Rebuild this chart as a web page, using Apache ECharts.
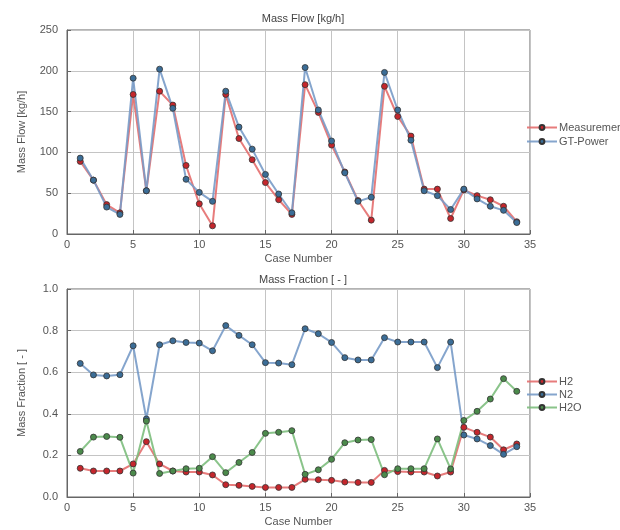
<!DOCTYPE html>
<html><head><meta charset="utf-8">
<script src="https://cdn.jsdelivr.net/npm/echarts@6/dist/echarts.min.js"></script>
<style>html,body{margin:0;padding:0;background:#fff}#c{width:620px;height:530px}</style>
</head><body><div id="c"></div>
<script>
var cases = [1,2,3,4,5,6,7,8,9,10,11,12,13,14,15,16,17,18,19,20,21,22,23,24,25,26,27,28,29,30,31,32,33,34];
var measurement = [89,66,36,26,171,53,175,158,84,37,10,171,117,91,63,42,24,183,149,109,76,41,17,181,144,120,55,55,19,54,47,42,34,15];
var gtPower =     [93,66,33,24,191,53,202,154,67,51,40,175,131,104,73,49,26,204,152,114,75,40,45,198,152,115,53,47,30,55,43,34,29,14];
var h2 =  [0.138,0.125,0.125,0.125,0.159,0.266,0.159,0.125,0.120,0.120,0.106,0.059,0.056,0.051,0.046,0.046,0.046,0.085,0.083,0.080,0.072,0.070,0.070,0.128,0.122,0.120,0.120,0.101,0.120,0.335,0.311,0.288,0.227,0.255];
var n2 =  [0.642,0.587,0.582,0.588,0.727,0.375,0.732,0.751,0.743,0.740,0.703,0.824,0.777,0.732,0.646,0.644,0.636,0.809,0.785,0.743,0.670,0.659,0.659,0.766,0.745,0.745,0.745,0.622,0.745,0.298,0.279,0.247,0.205,0.242];
var h2o = [0.219,0.288,0.291,0.287,0.115,0.365,0.113,0.125,0.136,0.138,0.194,0.117,0.166,0.214,0.306,0.311,0.319,0.109,0.131,0.181,0.261,0.274,0.276,0.107,0.136,0.136,0.136,0.279,0.135,0.368,0.412,0.471,0.569,0.508];

function pairs(v){ return cases.map(function(c,i){ return [c, v[i]]; }); }

var txt = '#555';
var font = 'Liberation Sans, Arial, sans-serif';
function xAx(gi){
  return {gridIndex:gi,type:'value',min:0,max:35,interval:5,name:'Case Number',nameLocation:'middle',nameGap:19,
    nameTextStyle:{color:txt,fontSize:11,fontFamily:font},
    axisLine:{lineStyle:{color:'#666'}},axisTick:{inside:true,length:4,lineStyle:{color:'#666'}},
    axisLabel:{color:txt,fontSize:11,fontFamily:font,margin:5},
    splitLine:{show:true,lineStyle:{color:'#c4c4c4'}}};
}
function yAx(gi,max,interval,name,fmt){
  return {gridIndex:gi,type:'value',min:0,max:max,interval:interval,name:name,nameLocation:'middle',nameGap:40,
    nameTextStyle:{color:txt,fontSize:11,fontFamily:font},
    axisLine:{show:true,lineStyle:{color:'#666'}},axisTick:{show:true,inside:true,length:4,lineStyle:{color:'#666'}},
    axisLabel:{color:txt,fontSize:11,fontFamily:font,margin:9,formatter:fmt},
    splitLine:{show:true,lineStyle:{color:'#c4c4c4'}}};
}
function ser(name,data,xi,lineCol,mk){
  return {name:name,type:'line',xAxisIndex:xi,yAxisIndex:xi,data:pairs(data),symbol:'circle',symbolSize:6,
    lineStyle:{color:lineCol,width:2},itemStyle:{color:mk,borderColor:'#333',borderWidth:0.8},
    emphasis:{disabled:true},z:2};
}
var chart = echarts.init(document.getElementById('c'));
chart.setOption({
  animation:false,
  backgroundColor:'#fff',
  title:[
    {text:'Mass Flow [kg/h]',left:298,top:8,textAlign:'center',textStyle:{fontSize:11,fontWeight:'normal',color:'#444',fontFamily:font}},
    {text:'Mass Fraction [ - ]',left:298,top:269,textAlign:'center',textStyle:{fontSize:11,fontWeight:'normal',color:'#444',fontFamily:font}}
  ],
  legend:[
    {orient:'vertical',left:521,top:117,itemWidth:30,itemHeight:6,itemGap:3,
      textStyle:{color:txt,fontSize:11,fontFamily:font,padding:[0,0,0,-3]},
      data:['Measurement','GT-Power']},
    {orient:'vertical',left:521,top:371,itemWidth:30,itemHeight:6,itemGap:2,
      textStyle:{color:txt,fontSize:11,fontFamily:font,padding:[0,0,0,-3]},
      data:['H2','N2','H2O']}
  ],
  grid:[
    {left:67,right:90,top:30,height:204,show:true,borderColor:'#666',borderWidth:1,backgroundColor:'#fff'},
    {left:67,right:90,top:289,height:208,show:true,borderColor:'#666',borderWidth:1,backgroundColor:'#fff'}
  ],
  xAxis:[xAx(0),xAx(1)],
  yAxis:[yAx(0,250,50,'Mass Flow [kg/h]'),yAx(1,1,0.2,'Mass Fraction [ - ]',function(v){return v.toFixed(1);})],
  series:[
    ser('Measurement',measurement,0,'rgba(228,110,110,0.9)','#c4262c'),
    ser('GT-Power',gtPower,0,'rgba(120,155,200,0.9)','#3b6d97'),
    ser('H2',h2,1,'rgba(228,110,110,0.9)','#c4262c'),
    ser('N2',n2,1,'rgba(120,155,200,0.9)','#3b6d97'),
    ser('H2O',h2o,1,'rgba(125,190,125,0.9)','#4b8a4b')
  ]
});
</script></body></html>
